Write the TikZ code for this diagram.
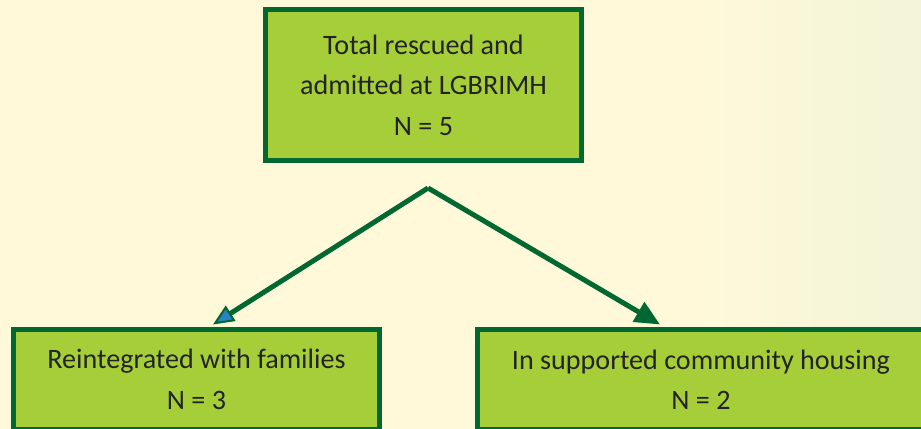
\documentclass[tikz,border=0pt]{standalone}
\usepackage{fontspec}
\setmainfont{Carlito}
\usetikzlibrary{arrows.meta}
\definecolor{bgYellow}{RGB}{255,249,217}
\definecolor{bgRight}{RGB}{242,244,216}
\definecolor{boxGreen}{RGB}{166,206,57}
\definecolor{lineGreen}{RGB}{0,104,48}
\definecolor{tipBlue}{RGB}{40,130,200}
\definecolor{textGray}{RGB}{35,35,35}

\begin{document}
\begin{tikzpicture}[%
    x=0.02cm, y=-0.02cm,
    every node/.style={
        font=\fontsize{16}{23}\selectfont,
        text=textGray,
    },
    box/.style={
        draw=lineGreen,
        fill=boxGreen,
        line width=0.1cm,
        align=center,
        inner sep=0pt,
    },
    link/.style={
        draw=lineGreen,
        line width=0.1cm,
    },
]
\useasboundingbox (0,0) rectangle (921,429);
\begin{scope}
\clip (0,0) rectangle (921,429);

% background
\fill[bgYellow] (0,0) rectangle (701,429);
\shade[left color=bgYellow, right color=bgRight] (700,0) rectangle (921,429);

% place boxes
\node[box, minimum width=6.32cm, minimum height=3.02cm] (total) at (423.5,85)
    {Total rescued and\\admitted at LGBRIMH\\N = 5};
\node[box, minimum width=7.32cm, minimum height=2.0cm] (families) at (196.5,379.5)
    {Reintegrated with families\\N = 3};
\node[box, minimum width=8.95cm, minimum height=2.0cm] (housing) at (701,379.5)
    {In supported community housing\\N = 2};

% draw connectors
\coordinate (apex) at (428,188);
\draw[link, -{Triangle[length=0.42cm, width=0.36cm, line width=1.2pt, fill=tipBlue]}]
    (apex) -- ([xshift=0.33cm, yshift=0.05cm]families.north);
\draw[link, -{Triangle[length=0.5cm, width=0.44cm]}]
    (apex) -- ([xshift=-0.82cm, yshift=0.05cm]housing.north);
\end{scope}

\end{tikzpicture}
\end{document}
